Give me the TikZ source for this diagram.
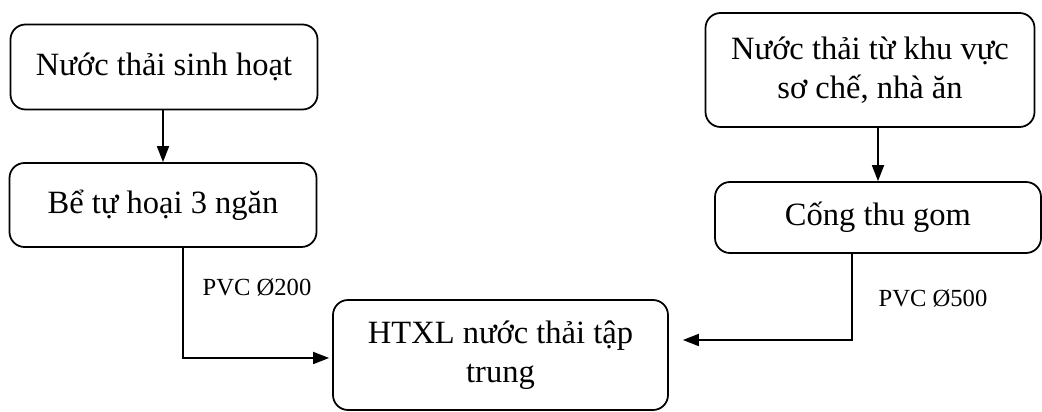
\documentclass[tikz,border=0pt]{standalone}
\usepackage{fontspec}
\setmainfont{Liberation Serif}
\usetikzlibrary{arrows.meta}
\tikzset{
  box/.style={draw, line width=1pt, rounded corners=0.3cm, align=center, font=\fontsize{18.5}{22}\selectfont, inner sep=0pt},
  pipe/.style={line width=1pt, -{Triangle[length=0.32cm, width=0.24cm]}},
  pipelabel/.style={font=\fontsize{14}{16}\selectfont}
}
\begin{document}
\begin{tikzpicture}
                          \useasboundingbox (0,0) rectangle (20.84,-8.24);
                          \node[box, minimum width=6.14cm, minimum height=1.7cm] (sinhhoat) at (3.28,-1.34) {Nước thải sinh hoạt};
                          \node[box, minimum width=6.14cm, minimum height=1.68cm] (tuhoai) at (3.26,-4.10) {Bể tự hoại 3 ngăn};
                          \node[box, minimum width=6.7cm, minimum height=2.2cm] (htxl) at (10.01,-7.1) {HTXL nước thải tập\\trung};
                          \node[box, minimum width=6.58cm, minimum height=2.28cm] (soche) at (17.4,-1.4) {Nước thải từ khu vực\\sơ chế, nhà ăn};
                          \node[box, minimum width=6.52cm, minimum height=1.42cm] (cong) at (17.56,-4.35) {Cống thu gom};
                          \node[pipelabel] (pvc200) at (5.14,-5.74) {PVC Ø200};
                          \node[pipelabel] (pvc500) at (18.66,-5.96) {PVC Ø500};
                          \draw[pipe] (tuhoai.north |- sinhhoat.south) -- (tuhoai.north);
                          \draw[pipe] (cong.north |- soche.south) -- (cong.north);
                          \draw[pipe] ([xshift=0.4cm]tuhoai.south) |- ([xshift=-0.06cm,yshift=-0.06cm]htxl.west);
                          \draw[pipe] ([xshift=-0.52cm]cong.south) |- ([xshift=0.28cm,yshift=0.3cm]htxl.east);
                      \end{tikzpicture}
\end{document}
